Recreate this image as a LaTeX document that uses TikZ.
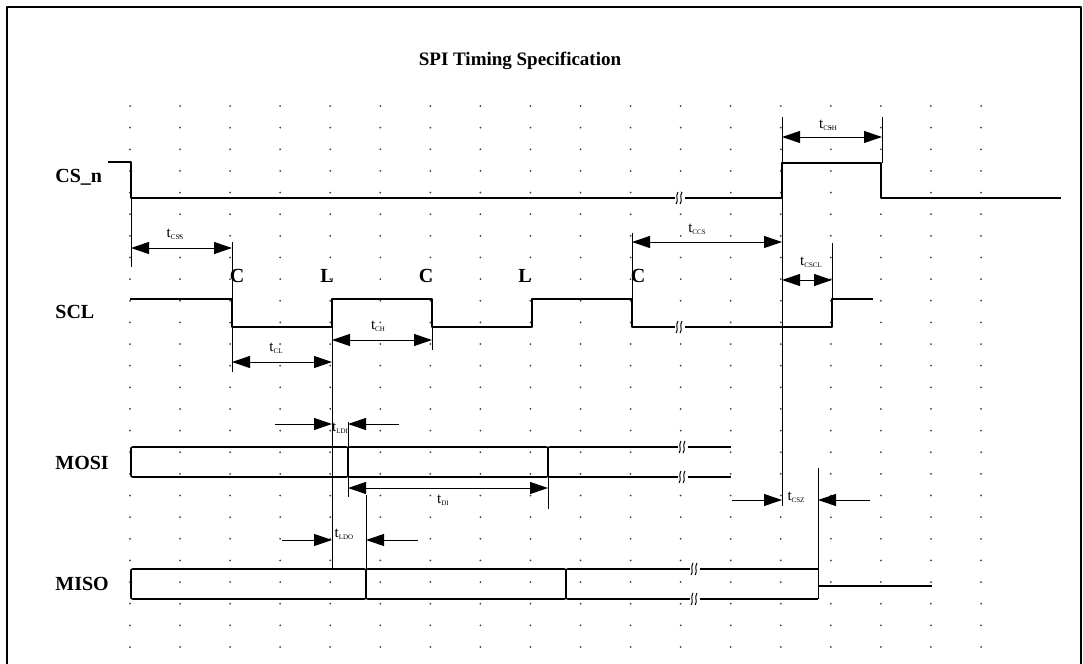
\documentclass[tikz,border=0pt]{standalone}
\usepackage{fontspec}
\setmainfont{Liberation Serif}
\usetikzlibrary{arrows.meta}
\newcommand{\tsub}[1]{t\raisebox{-1pt}{\fontsize{3.5}{4}\selectfont #1}}
\tikzset{
  sig/.style={line width=1.2pt},
  aux/.style={line width=0.5pt},
  dim/.style={line width=0.5pt,{Triangle[length=9pt,width=6pt]}-{Triangle[length=9pt,width=6pt]}},
  dimin/.style={line width=0.5pt,-{Triangle[length=9pt,width=6pt]}},
  sname/.style={anchor=base west,inner sep=0pt,font=\fontsize{10}{12}\selectfont\bfseries},
  edgelab/.style={anchor=base,inner sep=0pt,font=\fontsize{10}{12}\selectfont\bfseries},
  tlab/.style={anchor=base,inner sep=0pt,font=\fontsize{7.5}{9}\selectfont},
  gapmark/.pic={
    \fill[white] (-5,-6) rectangle (5,6);
    \draw[line width=0.5pt] (-4,6) .. controls (-1,3) and (-5,-2) .. (-2,-6);
    \draw[line width=0.5pt] (0,6) .. controls (3,3) and (-1,-2) .. (2,-6);
  },
  buscross/.pic={
    \draw[line width=0.8pt] (-2,0) .. controls (0,0) .. (0,4) -- (0,26) .. controls (0,30) .. (-2,30);
    \draw[line width=0.8pt] (2,0) .. controls (0,0) .. (0,4) -- (0,26) .. controls (0,30) .. (2,30);
  },
  busstart/.pic={
    \draw[line width=0.8pt] (2,0) .. controls (0,0) .. (0,4) -- (0,26) .. controls (0,30) .. (2,30);
  }
}
\begin{document}
\begin{tikzpicture}[x=0.5pt,y=-0.5pt,line join=round]
  \useasboundingbox (0,0) rectangle (1083,664);
  % Frame
  \draw[line width=1.3pt] (7,668) -- (7,7) -- (1081,7) -- (1081,668);
  \node[anchor=base,inner sep=0pt,font=\fontsize{9.5}{11}\selectfont\bfseries] (title) at (520,65) {SPI Timing Specification};

  % Dot grid
  \foreach \i in {0,...,17}
    \foreach \j in {0,...,25}
      \fill[black!75] ({130+50.06*\i},{106+21.64*\j}) circle (0.5pt);

  % Signal names
  \node[sname] (csn) at (55,182) {CS\_n};
  \node[sname] (scl) at (55,318) {SCL};
  \node[sname] (mosi) at (55,469) {MOSI};
  \node[sname] (miso) at (55,590) {MISO};

  % CS_n
  \draw[sig] (108,162) -- (131,162) -- (131,198) -- (782,198) -- (782,163) -- (881,163) -- (881,198) -- (1061,198);
  \pic at (680,198) {gapmark};

  % SCL
  \draw[sig] (130,299) -- (232,299) -- (232,327) -- (332,327) -- (332,299) -- (432,299) -- (432,327)
    -- (532,327) -- (532,299) -- (632,299) -- (632,327) -- (832,327) -- (832,299) -- (873,299);
  \pic at (680,327) {gapmark};
  \node[edgelab] (c1) at (237,282) {C};
  \node[edgelab] (l1) at (327,282) {L};
  \node[edgelab] (c2) at (426,282) {C};
  \node[edgelab] (l2) at (525,282) {L};
  \node[edgelab] (c3) at (638,282) {C};

  % MOSI
  \draw[sig] (133,447) -- (346,447) (350,447) -- (546,447) (550,447) -- (731,447);
  \draw[sig] (133,477) -- (346,477) (350,477) -- (546,477) (550,477) -- (731,477);
  \pic at (131,447) {busstart};
  \pic at (348,447) {buscross};
  \pic at (548,447) {buscross};
  \pic at (683,447) {gapmark};
  \pic at (683,477) {gapmark};

  % MISO
  \draw[sig] (133,569) -- (364,569) (368,569) -- (564,569) (568,569) -- (818,569);
  \draw[sig] (133,599) -- (364,599) (368,599) -- (564,599) (568,599) -- (818,599);
  \draw[sig] (818,586) -- (932,586);
  \pic at (131,569) {busstart};
  \pic at (366,569) {buscross};
  \pic at (566,569) {buscross};
  \pic at (695,569) {gapmark};
  \pic at (695,599) {gapmark};

  % Extension lines
  \draw[aux] (131,198) -- (131,267);
  \draw[aux] (232,242) -- (232,299);
  \draw[aux] (232,327) -- (232,372);
  \draw[aux] (432,327) -- (432,350);
  \draw[aux] (332,299) -- (332,569);
  \draw[aux] (348,422) -- (348,497);
  \draw[aux] (366,495) -- (366,569);
  \draw[aux] (548,477) -- (548,509);
  \draw[aux] (632,233) -- (632,299);
  \draw[aux] (782,117) -- (782,506);
  \draw[aux] (882,117) -- (882,163);
  \draw[aux] (832,243) -- (832,299);
  \draw[aux] (818,468) -- (818,599);

  % Timing arrows
  \draw[dim] (131,248) -- (232,248);
  \draw[dim] (232,362) -- (332,362);
  \draw[dim] (332,340) -- (432,340);
  \draw[dimin] (275,424) -- (332,424);
  \draw[dimin] (399,424) -- (348,424);
  \draw[dim] (348,488) -- (548,488);
  \draw[dimin] (282,540) -- (332,540);
  \draw[dimin] (418,540) -- (366,540);
  \draw[dim] (632,242) -- (782,242);
  \draw[dim] (782,137) -- (882,137);
  \draw[dim] (782,280) -- (832,280);
  \draw[dimin] (732,500) -- (782,500);
  \draw[dimin] (870,500) -- (818,500);

  % Timing labels
  \node[tlab] (tcss) at (175,237) {\tsub{CSS}};
  \node[tlab] (tcl) at (276,351) {\tsub{CL}};
  \node[tlab] (tch) at (378,329) {\tsub{CH}};
  \node[tlab] (tldi) at (340,431) {\tsub{LDI}};
  \node[tlab] (tdi) at (443,503) {\tsub{DI}};
  \node[tlab] (tldo) at (344,537) {\tsub{LDO}};
  \node[tlab] (tccs) at (697,232) {\tsub{CCS}};
  \node[tlab] (tcsh) at (828,128) {\tsub{CSH}};
  \node[tlab] (tcscl) at (811,265) {\tsub{CSCL}};
  \node[tlab] (tcsz) at (796,500) {\tsub{CSZ}};
\end{tikzpicture}
\end{document}
